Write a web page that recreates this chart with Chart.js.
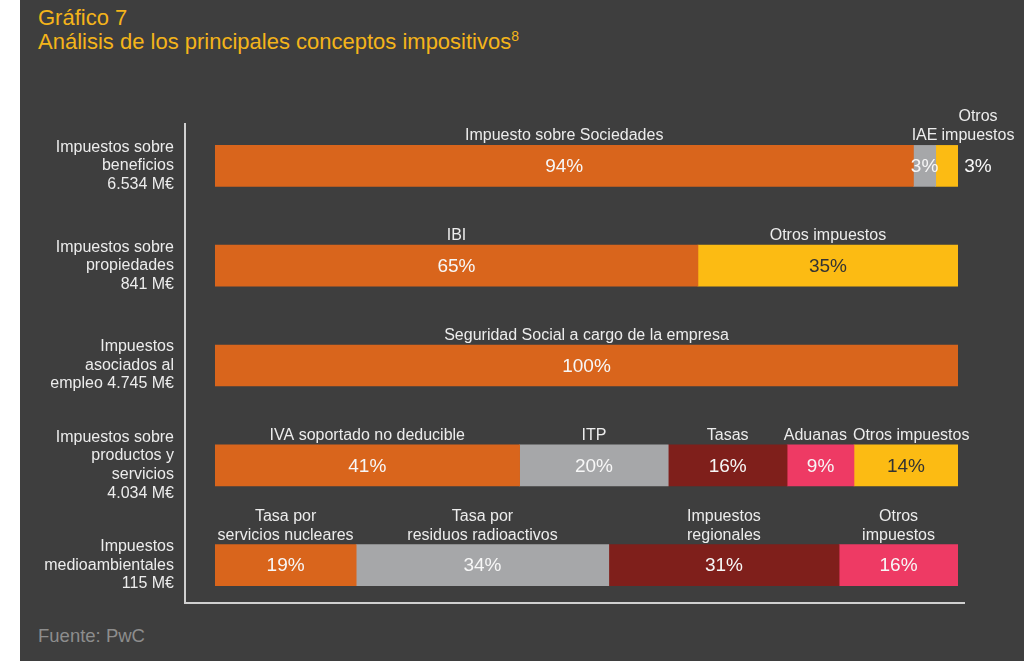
<!DOCTYPE html>
<html>
<head>
<meta charset="utf-8">
<script src="https://cdn.jsdelivr.net/npm/chart.js@4/dist/chart.umd.min.js"></script>
<style>
  html, body { margin: 0; padding: 0; }
  body {
    width: 1024px; height: 661px; overflow: hidden; position: relative;
    background: linear-gradient(to right, #fff 0, #fff 20px, #3e3e3e 20px);
    font-family: "Liberation Sans", Arial, sans-serif;
  }
  #title { position: absolute; left: 38px; top: 6px; color: #f4b41a; font-size: 22px; line-height: 24px; }
  #title sup { font-size: 14px; vertical-align: 8px; line-height: 0; }
  #source { position: absolute; left: 38px; top: 625px; color: #8d8d8d; font-size: 18.5px; }
  canvas { position: absolute; left: 0; top: 0; }
</style>
</head>
<body>
<div id="title">Gráfico 7<br>Análisis de los principales conceptos impositivos<sup>8</sup></div>
<div id="source">Fuente: PwC</div>
<canvas id="chart" width="1024" height="661"></canvas>
<script>
// categories (y axis)
var categories = [
  ["Impuestos sobre", "beneficios", "6.534 M€"],
  ["Impuestos sobre", "propiedades", "841 M€"],
  ["Impuestos", "asociados al", "empleo 4.745 M€"],
  ["Impuestos sobre", "productos y", "servicios", "4.034 M€"],
  ["Impuestos", "medioambientales", "115 M€"]
];

// shares (%) of each tax in each group
var shareBeneficios = [94, 3, 3];
var sharePropiedades = [65, 35];
var shareEmpleo = [100];
var shareProductos = [41, 20, 16, 9, 14];
var shareMedio = [19, 34, 31, 16];

// names over each segment
var namesBeneficios = ["Impuesto sobre Sociedades", "IAE", ["Otros", "impuestos"]];
var namesPropiedades = ["IBI", "Otros impuestos"];
var namesEmpleo = ["Seguridad Social a cargo de la empresa"];
var namesProductos = ["IVA soportado no deducible", "ITP", "Tasas", "Aduanas", "Otros impuestos"];
var namesMedio = [["Tasa por", "servicios nucleares"], ["Tasa por", "residuos radioactivos"], ["Impuestos", "regionales"], ["Otros", "impuestos"]];

var rows = [shareBeneficios, sharePropiedades, shareEmpleo, shareProductos, shareMedio];
var names = [namesBeneficios, namesPropiedades, namesEmpleo, namesProductos, namesMedio];

// colours
var O = "#d9651c", G = "#a6a7a9", Y = "#fcbb13", M = "#7f1f1b", P = "#ee3a64";
var rowColors = [[O, G, Y], [O, Y], [O], [O, G, M, P, Y], [O, G, M, P]];

var datasets = [];
for (var i = 0; i < 5; i++) {
  datasets.push({
    data: rows.map(function (r) { return r[i] != null ? r[i] : null; }),
    backgroundColor: rowColors.map(function (c) { return c[i] || "transparent"; }),
    borderWidth: 0,
    barThickness: 41
  });
}

var FONT = '"Liberation Sans", Arial, sans-serif';

var axisLines = {
  id: "axisLines",
  beforeDatasetsDraw: function (chart) {
    var a = chart.chartArea, ctx = chart.ctx;
    ctx.save();
    ctx.strokeStyle = "#d0d0d0";
    ctx.lineWidth = 2;
    ctx.beginPath();
    ctx.moveTo(a.left - 30, a.top + 7);
    ctx.lineTo(a.left - 30, a.bottom - 12);
    ctx.lineTo(a.right + 7, a.bottom - 12);
    ctx.stroke();
    ctx.restore();
  }
};

var segLabels = {
  id: "segLabels",
  afterDatasetsDraw: function (chart) {
    var ctx = chart.ctx;
    ctx.save();
    ctx.textAlign = "center";
    var nRows = chart.data.labels.length;
    for (var j = 0; j < nRows; j++) {
      var items = [];
      chart.data.datasets.forEach(function (ds, i) {
        var v = ds.data[j];
        if (v == null) return;
        var bar = chart.getDatasetMeta(i).data[j];
        var left = Math.min(bar.base, bar.x), right = Math.max(bar.base, bar.x);
        var cx = (left + right) / 2;
        var outside = (right - left < 25) && i === rows[j].length - 1;
        if (outside) cx = right + 20;
        var lines = [].concat(names[j][i]);
        ctx.font = "16px " + FONT;
        var w = Math.max.apply(null, lines.map(function (l) { return ctx.measureText(l).width; }));
        items.push({ v: v, i: i, bar: bar, cx: cx, nx: cx, w: w, lines: lines, outside: outside });
      });
      // push apart names that collide
      for (var k = 0; k < items.length - 1; k++) {
        var a = items[k], b = items[k + 1];
        var overlap = (a.nx + a.w / 2 + 6) - (b.nx - b.w / 2);
        if (overlap > 0 && !b.outside) { a.nx -= overlap / 2; b.nx += overlap / 2; }
      }
      items.forEach(function (it) {
        var bar = it.bar;
        ctx.font = "19px " + FONT;
        ctx.textBaseline = "middle";
        ctx.fillStyle = (rowColors[j][it.i] === Y && !it.outside) ? "#333333" : "#f7f7f7";
        ctx.fillText(it.v + "%", it.cx, bar.y + 1);
        ctx.font = "16px " + FONT;
        ctx.textBaseline = "alphabetic";
        ctx.fillStyle = "#ececec";
        var base = bar.y - bar.height / 2 - 5;
        for (var m = it.lines.length - 1; m >= 0; m--) {
          ctx.fillText(it.lines[m], it.nx, base - (it.lines.length - 1 - m) * 19);
        }
      });
    }
    ctx.restore();
  }
};

new Chart(document.getElementById("chart"), {
  type: "bar",
  data: { labels: categories, datasets: datasets },
  options: {
    indexAxis: "y",
    responsive: false,
    animation: false,
    layout: { padding: { left: 0, right: 66, top: 116, bottom: 46 } },
    plugins: { legend: { display: false }, tooltip: { enabled: false } },
    scales: {
      x: { stacked: true, min: 0, max: 100, display: false },
      y: {
        stacked: true,
        grid: { display: false, drawTicks: false },
        border: { display: false },
        afterFit: function (scale) {
          scale.width = 215;
          scale.paddingTop = 0;
          scale.paddingBottom = 0;
        },
        ticks: {
          color: "#ececec",
          padding: 41,
          font: { family: FONT, size: 16, lineHeight: 1.16 }
        }
      }
    }
  },
  plugins: [axisLines, segLabels]
});
</script>
</body>
</html>
